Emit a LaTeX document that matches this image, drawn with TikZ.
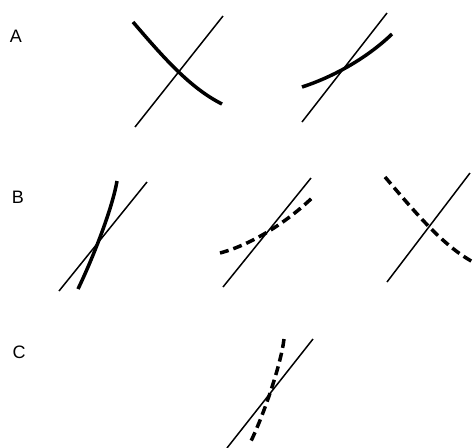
\documentclass[tikz,border=0pt]{standalone}
\usepackage{fontspec}
\setmainfont{Liberation Sans}
\begin{document}
\begin{tikzpicture}[x=1pt,y=-1pt,
  thinline/.style={line width=1.5pt},
  thickline/.style={line width=3.5pt},
  dashline/.style={line width=3.5pt, dash pattern=on 9pt off 5pt},
  lbl/.style={font=\fontsize{18}{18}\selectfont, inner sep=0pt}]
\useasboundingbox (0,0) rectangle (475,448);
% labels
\node[lbl] (la) at (16,36) {A};
\node[lbl] (lb) at (18,197) {B};
\node[lbl] (lc) at (19,352) {C};
% A1
\coordinate (a1s) at (135,127); \coordinate (a1e) at (223,16);
\draw[thinline] (a1s) -- (a1e);
\coordinate (a1cs) at (133,22); \coordinate (a1ce) at (222,104);
\draw[thickline] (a1cs) .. controls (163,57) and (190,88) .. (a1ce);
% A2
\coordinate (a2s) at (302,122); \coordinate (a2e) at (387,13);
\draw[thinline] (a2s) -- (a2e);
\coordinate (a2cs) at (302,87); \coordinate (a2ce) at (392,34);
\draw[thickline] (a2cs) .. controls (330,78) and (365,60) .. (a2ce);
% B1
\coordinate (b1s) at (59,291); \coordinate (b1e) at (147,182);
\draw[thinline] (b1s) -- (b1e);
\coordinate (b1cs) at (78,289); \coordinate (b1ce) at (117,181);
\draw[thickline] (b1cs) .. controls (92,260) and (112,210) .. (b1ce);
% B2
\coordinate (b2s) at (223,287); \coordinate (b2e) at (311,178);
\draw[thinline] (b2s) -- (b2e);
\coordinate (b2cs) at (220,253); \coordinate (b2ce) at (313,197);
\draw[dashline] (b2cs) .. controls (250,245) and (285,224) .. (b2ce);
% B3
\coordinate (b3s) at (387,282); \coordinate (b3e) at (470,173);
\draw[thinline] (b3s) -- (b3e);
\coordinate (b3cs) at (385,177); \coordinate (b3ce) at (473,262);
\draw[dashline] (b3cs) .. controls (415,212) and (442,245) .. (b3ce);
% C
\coordinate (cs) at (227,448); \coordinate (ce) at (313,339);
\draw[thinline] (cs) -- (ce);
\coordinate (ccs) at (284,339); \coordinate (cce) at (249,445);
\draw[dashline] (ccs) .. controls (281,365) and (262,420) .. (cce);
\end{tikzpicture}
\end{document}
